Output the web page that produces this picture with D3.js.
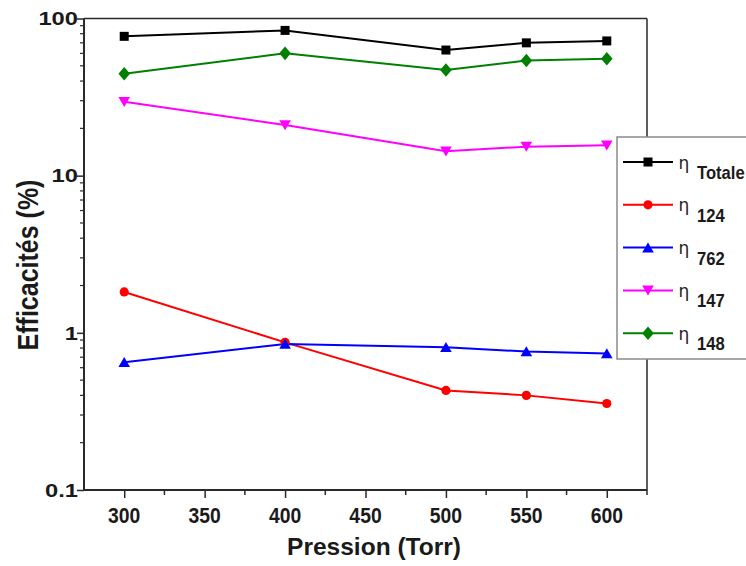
<!DOCTYPE html>
<html><head><meta charset="utf-8">
<script src="https://cdn.jsdelivr.net/npm/d3@7/dist/d3.min.js"></script>
<style>html,body{margin:0;padding:0;background:#fff;}svg{display:block;}</style>
</head><body>
<svg id="chart" width="746" height="566"></svg>
<script>
const pressions = [300, 400, 500, 550, 600];
const etaTotale = [77, 84, 63, 70, 72];
const eta124 = [1.82, 0.87, 0.43, 0.40, 0.355];
const eta762 = [0.65, 0.85, 0.81, 0.76, 0.74];
const eta147 = [29.5, 21, 14.3, 15.3, 15.6];
const eta148 = [44.5, 60, 47, 54, 55.5];
const seriesNames = ["Totale", "124", "762", "147", "148"];
const seriesColors = ["#000000", "#ff0000", "#0000ff", "#ff00ff", "#008000"];
const seriesShapes = ["square", "circle", "up", "down", "diamond"];
const xTicks = [300, 350, 400, 450, 500, 550, 600];
const yTicks = [0.1, 1, 10, 100];
const yTickLabels = ["0.1", "1", "10", "100"];

const seriesValues = [etaTotale, eta124, eta762, eta147, eta148];

const svg = d3.select("#chart");
const L = 84, R = 647, T = 18.5, B = 490;
const x = d3.scaleLinear().domain([275, 625]).range([L, R]);
const y = d3.scaleLog().domain([0.1, 100]).range([B, T]);
const FONT = "'Liberation Sans', Arial, Helvetica, sans-serif";

function txt(g, s, px, py, o) {
  const t = g.append("text")
    .attr("transform", `translate(${px},${py}) rotate(${o.rot||0}) scale(${o.sx||1},${o.sy||1})`)
    .attr("font-family", o.family || FONT)
    .attr("font-weight", o.weight || "bold")
    .attr("font-size", o.size)
    .attr("text-anchor", o.anchor || "start")
    .attr("fill", o.fill || "#1a1a1a")
    .text(s);
  return t;
}

function shapePath(shape) {
  switch (shape) {
    case "square": return "M-4.5,-4.5H4.5V4.5H-4.5Z";
    case "circle": return d3.symbol(d3.symbolCircle, Math.PI * 4.6 * 4.6)();
    case "up": return "M0,-5.2L5.8,4.8L-5.8,4.8Z";
    case "down": return "M0,5.2L5.8,-4.8L-5.8,-4.8Z";
    case "diamond": return "M0,-6.8L5.8,0L0,6.8L-5.8,0Z";
  }
}

// frame
const axisColor = "#2a2a2a";
svg.append("line").attr("x1", L).attr("x2", R).attr("y1", T).attr("y2", T)
  .attr("stroke", axisColor).attr("stroke-width", 1.5);
svg.append("line").attr("x1", R).attr("x2", R).attr("y1", T).attr("y2", B)
  .attr("stroke", axisColor).attr("stroke-width", 1.5);

// x axis
const xAxis = d3.axisBottom(x).tickValues(xTicks).tickSize(8).tickFormat("");
const gx = svg.append("g").attr("transform", `translate(0,${B})`).call(xAxis);
gx.select(".domain").attr("stroke", axisColor).attr("stroke-width", 2).attr("d", `M${L},0H${R}`);
gx.selectAll(".tick line").attr("stroke", axisColor).attr("stroke-width", 1.5);
const xMinor = d3.range(325, 626, 50);
gx.selectAll(".minor").data(xMinor).enter().append("line")
  .attr("x1", d => x(d)).attr("x2", d => x(d)).attr("y1", 0).attr("y2", 5)
  .attr("stroke", axisColor).attr("stroke-width", 1.5);
xTicks.forEach(v => {
  txt(svg, String(v), x(v), 523, {size: 21.5, anchor: "middle", sx: 0.9});
});

// y axis
const yAxis = d3.axisLeft(y).tickValues(yTicks).tickSize(7).tickFormat("");
const gy = svg.append("g").attr("transform", `translate(${L},0)`).call(yAxis);
gy.select(".domain").attr("stroke", axisColor).attr("stroke-width", 2).attr("d", `M0,${T}V${B}`);
gy.selectAll(".tick line").attr("stroke", axisColor).attr("stroke-width", 1.5);
const yMinor = [];
[0.1, 1, 10].forEach(dec => { for (let k = 2; k <= 9; k++) yMinor.push(dec * k); });
gy.selectAll(".minor").data(yMinor).enter().append("line")
  .attr("x1", 0).attr("x2", -4).attr("y1", d => y(d)).attr("y2", d => y(d))
  .attr("stroke", axisColor).attr("stroke-width", 1.2);
yTicks.forEach((v, i) => {
  txt(svg, yTickLabels[i], 78, y(v) + 6.8, {size: 19, anchor: "end", sx: 1.25});
});

// axis titles
txt(svg, "Pression (Torr)", 374, 555, {size: 24.5, anchor: "middle"});
txt(svg, "Efficacités (%)", 38, 265, {size: 25, anchor: "middle", rot: -90, sy: 1.15});

// series
const line = d3.line().x(d => x(d[0])).y(d => y(d[1]));
seriesValues.forEach((vals, i) => {
  const pts = pressions.map((p, j) => [p, vals[j]]);
  svg.append("path").datum(pts).attr("d", line)
    .attr("fill", "none").attr("stroke", seriesColors[i]).attr("stroke-width", 2);
});
seriesValues.forEach((vals, i) => {
  const pts = pressions.map((p, j) => [p, vals[j]]);
  svg.append("g").selectAll("path").data(pts).enter().append("path")
    .attr("d", shapePath(seriesShapes[i]))
    .attr("transform", d => `translate(${x(d[0])},${y(d[1])})`)
    .attr("fill", seriesColors[i]);
});

// legend
const lg = svg.append("g");
lg.append("rect").attr("x", 617).attr("y", 137).attr("width", 140).attr("height", 222)
  .attr("fill", "#fff").attr("stroke", "#8a8a8a").attr("stroke-width", 1.5);
seriesNames.forEach((name, i) => {
  const ry = 162 + i * 42.8;
  lg.append("line").attr("x1", 623).attr("x2", 673).attr("y1", ry).attr("y2", ry)
    .attr("stroke", seriesColors[i]).attr("stroke-width", 2);
  lg.append("path").attr("d", shapePath(seriesShapes[i]))
    .attr("transform", `translate(648,${ry})`).attr("fill", seriesColors[i]);
  txt(lg, "η", 678.5, ry + 6.5, {size: 17, weight: "normal", family: "'DejaVu Sans', sans-serif", fill: "#222"});
  txt(lg, name, 697, ry + 17, {size: 17.5, sx: 0.95});
});
</script>
</body></html>
